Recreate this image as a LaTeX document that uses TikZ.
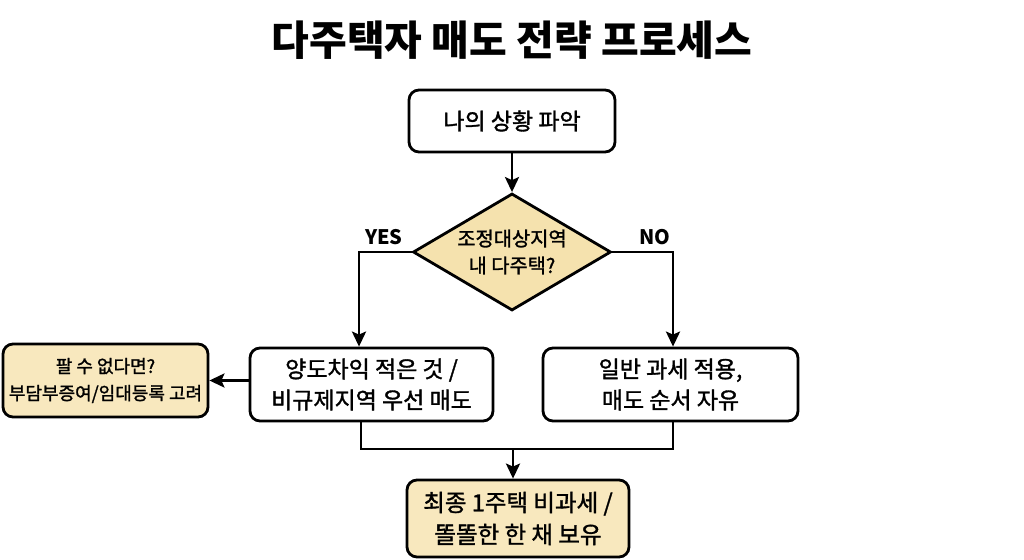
\documentclass[tikz,border=0pt]{standalone}
\usepackage{fontspec}
\setmainfont{Noto Sans CJK KR}
\newfontfamily\medfont{Noto Sans CJK KR}[FakeBold=1.4]
\usetikzlibrary{shapes.geometric,arrows.meta}
\definecolor{tanfill}{HTML}{F8E8BE}
\definecolor{dfill}{HTML}{F5E2AE}
\begin{document}
\begin{tikzpicture}[x=1pt,y=-1pt,
  box/.style={draw=black,line width=2.8pt,rounded corners=10pt,fill=white,align=center,inner sep=0pt,font=\medfont\fontsize{23}{31}\selectfont},
  tanbox/.style={box,fill=tanfill},
  dia/.style={diamond,shape aspect=1.69,draw=black,line width=2.8pt,fill=dfill,inner sep=0pt,align=center,font=\medfont\fontsize{19.8}{27}\selectfont},
  conn/.style={line width=2.8pt,-{Stealth[length=15pt,width=14pt,inset=3pt]}},
  plain/.style={line width=2.8pt},
  lab/.style={font=\bfseries\fontsize{20}{22}\selectfont}]
\useasboundingbox (0,0) rectangle (1024,559);
\fill[white] (0,0) rectangle (1024,559);
\node[font=\fontsize{41}{45}\selectfont\bfseries] (title) at (512,40) {다주택자 매도 전략 프로세스};
\node[box,minimum width=206pt,minimum height=62pt] (start) at (512,121) {나의 상황 파악};
\node[dia,minimum width=198pt,minimum height=117pt] (dec) at (512,252) {조정대상지역\\내 다주택?};
\node[box,minimum width=243pt,minimum height=73pt] (yes) at (371.5,384.5) {양도차익 적은 것 /\\비규제지역 우선 매도};
\node[box,minimum width=255pt,minimum height=73pt] (no) at (670.5,384.5) {일반 과세 적용,\\매도 순서 자유};
\node[tanbox,minimum width=205pt,minimum height=73pt,font=\medfont\fontsize{18}{27}\selectfont] (alt) at (105.5,380.5) {팔 수 없다면?\\부담부증여/임대등록 고려};
\node[tanbox,minimum width=222pt,minimum height=77pt,font=\medfont\fontsize{23.5}{32}\selectfont] (final) at (518,518.5) {최종 1주택 비과세 /\\똘똘한 한 채 보유};
\node[lab] (ylab) at (384,237) {YES};
\node[lab] (nlab) at (655,237) {NO};
\coordinate (yl) at (359,252);
\coordinate (nr) at (673,252);
\coordinate (m1) at (361,449);
\coordinate (m2) at (673,449);
\coordinate (m) at (513,449);
\draw[conn] (start.south) -- (dec.north);
\draw[conn] (dec.west) -- (yl) -- (yl |- yes.north);
\draw[conn] (dec.east) -- (nr) -- (nr |- no.north);
\draw[conn] (alt.east -| yes.west) -- (alt.east);
\draw[plain] (m1 |- yes.south) -- (m1) -- (m2) -- (m2 |- no.south);
\draw[conn] (m) -- (m |- final.north);
\end{tikzpicture}
\end{document}
